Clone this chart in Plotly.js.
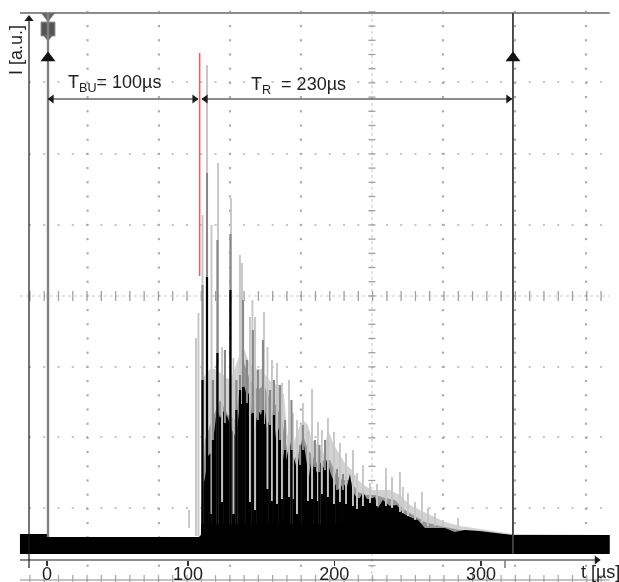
<!DOCTYPE html>
<html><head><meta charset="utf-8">
<script src="https://cdn.plot.ly/plotly-3.0.1.min.js"></script>
<style>html,body{margin:0;padding:0;background:#fff;overflow:hidden}#g{width:619px;height:582px;filter:blur(0.45px)}</style>
</head><body><div id="g"></div>
<script>
// Time in µs, intensity in arbitrary units above the floor of the noise band
const bodyT=[-18.7,0,1,105,106.4,107.1,109.2,111.3,114,116.1,117.5,119.6,122.3,125.1,127.8,130.6,133.4,135.4,137.5,139.6,141.7,143.7,145.8,147.9,150,152,154.1,156.2,158.2,160.3,162.4,164.5,166.5,167.9,170,172.8,174.8,176.9,179,181,183.1,185.2,187.3,188.6,191.4,193.5,196.2,199,201.8,204.5,207.3,209.4,211.4,214.2,216.3,218.4,221.1,223.2,226.7,228.7,232.2,237,241.9,246,250.8,256.4,261.2,268.1,275,281.9,288.8,299.2,309.6,322,354.5,389];
const bodyI=[20,20,17,17,19,64,76,98,102,128,146,136,143,136,124,117,152,172,162,160,139,124,144,139,152,126,136,144,116,126,108,88,102,112,98,86,102,116,96,76,98,78,86,92,86,94,80,70,64,70,67,80,62,56,56,62,55,55,57,46,54,48,49,41,37,34,26,26,26,22,24,23,21,19,19,19];
const hazeT=[106.4,107.1,112.7,116.1,121,125.1,128.6,132,136.2,140.3,144.5,148.6,152.8,156.9,161,163.8,166.6,170,173.5,176.9,180.4,183.2,187.3,190.8,194.2,198.4,202.5,206.7,210.8,215,219.1,224.6,230.2,237.1,244,250.9,257.8,264.7,275,285.5,299.3,322.1,389];
const hazeI=[19,175,185,185,180,175,180,195,205,190,185,185,175,170,169,159,114,109,124,134,129,114,109,99,124,109,99,89,84,74,69,64,64,64,59,49,44,39,32,28,25,20,19];
const midT=[106.4,109.2,114,119.6,125.1,130.6,135.5,140.3,145.8,150,154.1,158.3,162.4,166.6,170,173.5,176.9,180.4,183.2,187.3,191.5,195.6,199.8,203.9,209.4,215,220.5,226.7,233.6,240.5,247.4,254.4,261.3,271.6,285.5,322.1];
const midI=[19,114,134,154,139,134,194,174,164,169,154,149,134,99,94,99,119,104,99,89,94,94,79,74,74,62,59,59,56,54,44,38,32,28,24,19];
const lightT=[98.2,103,104.7,107.5,110.6,113.7,118.2,121,127.2,128.9,133.4,134.8,140.3,142,143.8,150,152.4,155.5,159,162.4,167.3,170,172.8,176.9,180.4,183.2,187.3,190,194.2,198.4,202.5,206.7,211.5,214.3,218.4,223.3,228.1,234.3,238.5,244,246,249.5,254.4,259.2,263.3,268.2,273.7,284.1];
const lightTop=[44,216,241,339,489,329,391,207,356,196,299,291,237,254,237,242,207,194,191,171,174,141,134,151,124,165,132,124,136,122,111,101,104,81,89,71,70,86,77,82,67,61,52,62,46,41,34,36];
const lightBase=[26,18,18,64,280,40,190,52,250,40,150,150,52,140,44,130,65,53,50,55,57,55,40,104,53,55,53,60,57,50,52,50,48,45,48,51,48,48,46,42,41,38,34,31,28,28,28,26];
const greyT=[107.5,110.6,114.7,117.8,123,126.8,130.9,133.4,135.5,138.2,142.3,145.8,149.3,154.1,156.9,161,164.5,169,174.9,176.9,185.2,188.3,192.2,200.4,204.6];
const greyTop=[269,381,174,314,204,320,174,179,254,194,224,184,214,164,174,169,134,154,109,129,114,109,114,85,80];
const darkT=[107.5,110.6,114.7,117.8,123,126.8,130.9,133.4,135.5,138.2,142.3,145.8,149.3,154.1,156.9,161,164.5,169,174.9,176.9,185.2,188.3,192.2,200.4,204.6,209.4];
const darkTop=[174,277,114,201,131,264,144,164,167,151,141,134,144,129,139,114,104,104,89,104,87,82,84,64,64,72];
const axisTicks=[0,97.5,198.5,300];
const axisLabels=['0','100','200','300'];
const cursorT=[0.7,322.1];
const triggerT=0.7;
const pulseStartT=105.5;
const pulseI=[278,501];
const spanBU=[0.7,104.4];
const spanR=[107.1,321.4];
const gridT=[28,77.4,126.5,175.5,224.6,273.7,323.5,372.6];
const gridI=[472,400,329,258,187,117,46];

function spikes(ts,tops,bases){const x=[],y=[];ts.forEach((t,i)=>{x.push(t,t,null);y.push(bases?bases[i]:0,tops[i],null);});return {x,y};}
const skip={hoverinfo:'skip',showlegend:false};
const stepT=9.87, stepI=14.2;
const rowX=[],rowY=[],colX=[],colY=[];
gridI.forEach(v=>{for(let t=-12;t<390;t+=stepT){if(v!==258){rowX.push(t+0.2);rowY.push(v);}}});
gridT.forEach(c=>{for(let v=-26;v<545;v+=stepI){if(c!==224.6){colX.push(c);colY.push(v+0.1);}}});
const crossT=[],crossI=[],botI=[];
for(let t=-12;t<390;t+=stepT){crossT.push(t+0.2);crossI.push(258);botI.push(-26);}
const ladderT=[],ladderI=[];
for(let v=-26;v<545;v+=stepI){ladderT.push(224.6);ladderI.push(v+0.1);}

const L=spikes(lightT,lightTop,lightBase), G=spikes(greyT,greyTop,greyT.map(()=>30)), D=spikes(darkT,darkTop);
const ink='#1a1a1a';
const headL={symbol:'triangle-left',size:8,color:ink}, headR={symbol:'triangle-right',size:8,color:ink};
const traces=[
 {x:rowX,y:rowY,mode:'markers',marker:{symbol:'square',size:2,color:'#c4c4c4'},...skip},
 {x:colX,y:colY,mode:'markers',marker:{symbol:'square',size:2.2,color:'#adadad'},...skip},
 {x:[-18.7,389],y:[258,258],mode:'lines',line:{color:'#c8c8c8',width:1,dash:'dot'},...skip},
 {x:crossT,y:crossI,mode:'markers',marker:{symbol:'line-ns',size:7,line:{width:1.3,color:'#a0a0a0'}},...skip},
 {x:ladderT,y:ladderI,mode:'lines+markers',line:{color:'#c4c4c4',width:1,dash:'dot'},marker:{symbol:'line-ew',size:5,line:{width:1.3,color:'#a0a0a0'}},...skip},
 {x:[-18.7,389],y:[-26,-26],mode:'lines',line:{color:'#b0b0b0',width:1.5},...skip},
 {x:crossT,y:botI,mode:'markers',marker:{symbol:'line-ns',size:7,line:{width:1.2,color:'#a4a4a4'}},...skip},
 {x:[-18.7,389],y:[541,541],mode:'lines',line:{color:'#8c8c8c',width:2},...skip},
 {x:hazeT,y:hazeI,mode:'lines',fill:'tozeroy',fillcolor:'#d2d2d2',line:{width:0},...skip},
 {x:midT,y:midI,mode:'lines',fill:'tozeroy',fillcolor:'#969696',line:{width:0},...skip},
 {x:bodyT,y:bodyI,mode:'lines',fill:'tozeroy',fillcolor:'#000',line:{width:0},...skip},
 {x:L.x,y:L.y,mode:'lines',line:{color:'#c6c6c6',width:1.9},connectgaps:false,...skip},
 {x:G.x,y:G.y,mode:'lines',line:{color:'#888',width:2.1},connectgaps:false,...skip},
 {x:D.x,y:D.y,mode:'lines',line:{color:'#000',width:2.2},connectgaps:false,...skip},
 {x:[triggerT],y:[525],mode:'markers',marker:{symbol:'square',size:14,color:'#555',line:{width:1,color:'#999'}},...skip},
 {x:[triggerT],y:[517],mode:'markers',marker:{symbol:'triangle-down',size:9,color:'#666'},...skip},
 {x:[triggerT],y:[538],mode:'markers',marker:{symbol:'triangle-down',size:12,color:'#666'},...skip},
 {x:[cursorT[0],cursorT[0]],y:[541,17],mode:'lines',line:{color:'#808080',width:2.4},...skip},
 {x:[cursorT[1],cursorT[1]],y:[541,19],mode:'lines',line:{color:'#3c3c3c',width:1.8},...skip},
 {x:[cursorT[1],cursorT[1]],y:[19,0],mode:'lines',line:{color:'#777',width:1},...skip},
 {x:[pulseStartT,pulseStartT],y:pulseI,mode:'lines',line:{color:'#e8606f',width:1.6},...skip},
 {x:cursorT,y:[496,496],mode:'markers',marker:{symbol:'triangle-up',size:13,color:'#111'},...skip},
 {x:spanBU,y:[455,455],mode:'lines',line:{color:ink,width:1.2},...skip},
 {x:spanR,y:[455,455],mode:'lines',line:{color:ink,width:1.2},...skip},
 {x:[spanBU[0]+2.5,spanR[0]+2.5],y:[455,455],mode:'markers',marker:headL,...skip},
 {x:[spanBU[1]-2.5,spanR[1]-2.5],y:[455,455],mode:'markers',marker:headR,...skip},
 {x:[-18.7,382],y:[-6,-6],mode:'lines',line:{color:ink,width:1.2},...skip},
 {x:[380],y:[-6],mode:'markers',marker:headR,...skip},
 {x:[-12.44,-12.44],y:[-14,538],mode:'lines',line:{color:ink,width:1.2},...skip},
 {x:[-12.44],y:[535],mode:'markers',marker:{symbol:'triangle-up',size:8,color:ink},...skip}
];
const textFont={family:'Liberation Sans, Arial, sans-serif',size:18,color:'#222'};
const txt=(x,y,text,anchor,extra)=>Object.assign({x,y,text,xref:'x',yref:'y',showarrow:false,xanchor:anchor||'center',yanchor:'middle',font:textFont},extra||{});
const layout={
 width:619,height:582,margin:{l:0,r:0,t:0,b:0},paper_bgcolor:'#fff',plot_bgcolor:'rgba(0,0,0,0)',showlegend:false,
 xaxis:{range:[-32.49,395.4],domain:[0,1],anchor:'free',position:0.0378,showgrid:false,zeroline:false,showline:false,
   tickmode:'array',tickvals:axisTicks,ticktext:axisLabels,ticks:'outside',ticklen:5,tickwidth:1.2,tickcolor:'#333',ticklabelstandoff:-8,
   tickfont:textFont},
 yaxis:{range:[-28,554],domain:[0,1],visible:false},
 annotations:[
  txt(13.3,471,'T<sub>BU</sub>= 100µs','left'),
  txt(139.8,469,'T<sub>R</sub>  = 230µs','left'),
  txt(-21.4,504,'I [a.u.]','center',{textangle:-90}),
  txt(368,-18,'t [µs]','left')
 ],
 shapes:[{type:'line',xref:'x',yref:'y',x0:316.6,x1:316.6,y0:-6,y1:-14,line:{color:'#777',width:1.5}}]
};
Plotly.newPlot('g',traces,layout,{staticPlot:true,displayModeBar:false});
</script></body></html>
